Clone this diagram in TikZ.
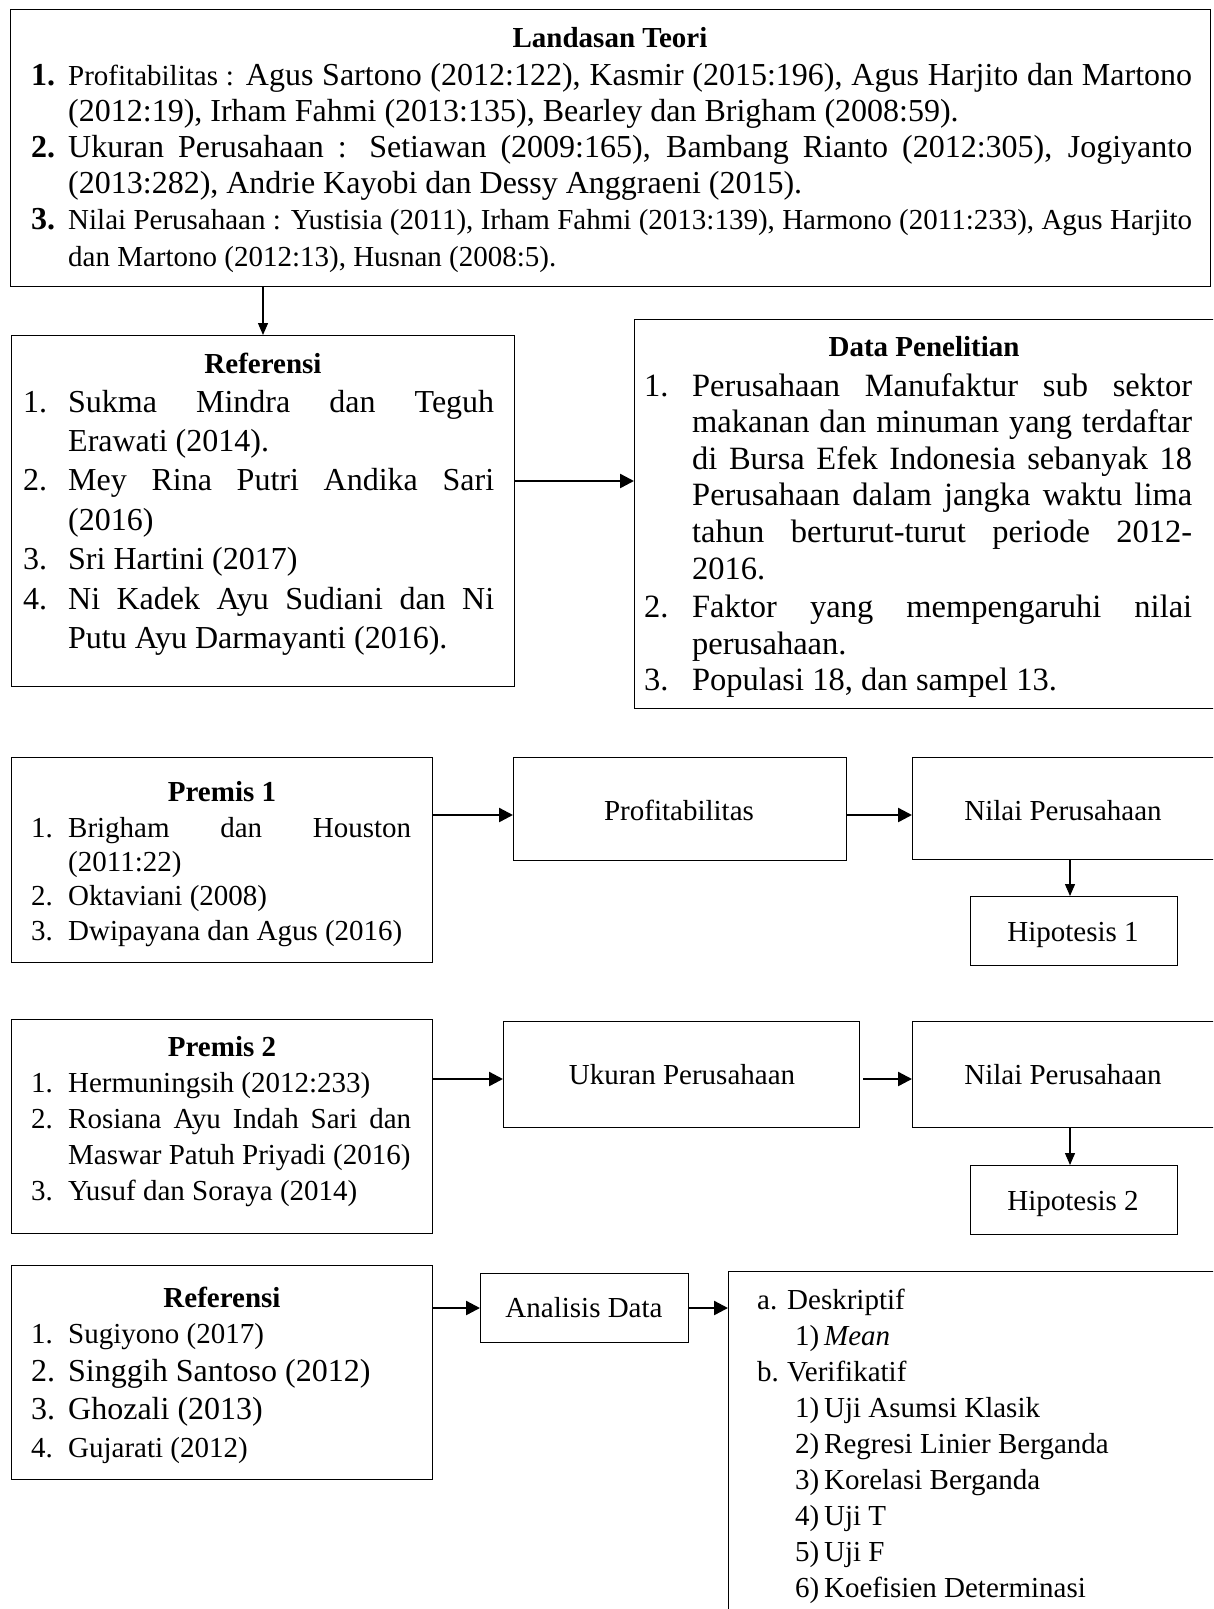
\documentclass[tikz,border=0pt]{standalone}
\usepackage{fontspec}
\setmainfont{Liberation Serif}
\usetikzlibrary{arrows.meta}
\newcommand\fsz[2]{\fontsize{#1}{#2}\selectfont}
\newcommand\jl[2]{\makebox[#1][s]{#2}}
\newcommand\nm[2]{\makebox[#1][l]{#2}}
\begin{document}
\begin{tikzpicture}[x=1pt,y=-1pt,
  box/.style={draw, line width=1.3pt, inner sep=0pt, anchor=north west},
  head/.style={font=\fsz{29}{34}\bfseries, inner sep=0pt, anchor=base},
  lbl/.style={font=\fsz{29}{34}, inner sep=0pt, anchor=base},
  body/.style={inner sep=0pt, anchor=base west},
  harr/.style={-{Triangle[length=14pt,width=14pt]}, line width=2.4pt},
  varr/.style={-{Triangle[length=12pt,width=10pt]}, line width=1.3pt}]
\useasboundingbox (0,0) rectangle (1213,1609);
\clip (0,0) rectangle (1213,1609);
\fill[white] (0,0) rectangle (1213,1609);

% boxes
\node[box, minimum width=1200pt, minimum height=277pt] (LT) at (10,9) {};
\node[box, minimum width=503pt, minimum height=351pt] (R1) at (11,335) {};
\node[box, minimum width=620pt, minimum height=389pt] (DP) at (634,319) {};
\node[box, minimum width=421pt, minimum height=205pt] (P1) at (11,757) {};
\node[box, minimum width=333pt, minimum height=103pt] (PR) at (513,757) {};
\node[box, minimum width=330pt, minimum height=102pt] (N1) at (912,757) {};
\node[box, minimum width=207pt, minimum height=69pt] (H1) at (970,896) {};
\node[box, minimum width=421pt, minimum height=214pt] (P2) at (11,1019) {};
\node[box, minimum width=356pt, minimum height=106pt] (UK) at (503,1021) {};
\node[box, minimum width=330pt, minimum height=106pt] (N2) at (912,1021) {};
\node[box, minimum width=207pt, minimum height=69pt] (H2) at (970,1165) {};
\node[box, minimum width=421pt, minimum height=214pt] (R2) at (11,1265) {};
\node[box, minimum width=208pt, minimum height=69pt] (AD) at (480,1273) {};
\node[box, minimum width=520pt, minimum height=380pt] (AN) at (728,1271) {};

% Landasan Teori
\node[head] (LTh) at (610,47) {Landasan Teori};
\node[body] (LTt) at (31,85) {\parbox[t]{1170pt}{\fsz{32}{36.2}\lineskiplimit=-100pt
\nm{37pt}{\textbf{1.}}\jl{1124pt}{{\fsz{29}{36.2}Profitabilitas :} Agus Sartono (2012:122), Kasmir (2015:196), Agus Harjito dan Martono}\\
\hspace*{37pt}(2012:19), Irham Fahmi (2013:135), Bearley dan Brigham (2008:59).\\
\nm{37pt}{\textbf{2.}}\jl{1124pt}{Ukuran Perusahaan : Setiawan (2009:165), Bambang Rianto (2012:305), Jogiyanto}\\
\hspace*{37pt}(2013:282), Andrie Kayobi dan Dessy Anggraeni (2015).\\
\nm{37pt}{\textbf{3.}}\jl{1124pt}{\fsz{29}{36.2}Nilai Perusahaan : Yustisia (2011), Irham Fahmi (2013:139), Harmono (2011:233), Agus Harjito}\\
\hspace*{37pt}{\fsz{29}{36.2}dan Martono (2012:13), Husnan (2008:5).}}};

% Referensi 1
\node[head] (R1h) at (263,373) {Referensi};
\node[body] (R1t) at (23,412) {\parbox[t]{480pt}{\fsz{32}{39.4}\lineskiplimit=-100pt
\nm{45pt}{1.}\jl{426pt}{Sukma Mindra dan Teguh}\\
\hspace*{45pt}Erawati (2014).\\
\nm{45pt}{2.}\jl{426pt}{Mey Rina Putri Andika Sari}\\
\hspace*{45pt}(2016)\\
\nm{45pt}{3.}Sri Hartini (2017)\\
\nm{45pt}{4.}\jl{426pt}{Ni Kadek Ayu Sudiani dan Ni}\\
\hspace*{45pt}Putu Ayu Darmayanti (2016).}};

% Data Penelitian
\node[head] (DPh) at (924,356) {Data Penelitian};
\node[body] (DPt) at (644,396) {\parbox[t]{560pt}{\fsz{32.5}{36.6}\lineskiplimit=-100pt
\nm{48pt}{1.}\jl{500pt}{Perusahaan Manufaktur sub sektor}\\
\hspace*{48pt}\jl{500pt}{makanan dan minuman yang terdaftar}\\
\hspace*{48pt}\jl{500pt}{di Bursa Efek Indonesia sebanyak 18}\\
\hspace*{48pt}\jl{500pt}{Perusahaan dalam jangka waktu lima}\\
\hspace*{48pt}\jl{500pt}{tahun berturut-turut periode 2012-}\\
\hspace*{48pt}2016.\\[2pt]
\nm{48pt}{2.}\jl{500pt}{Faktor yang mempengaruhi nilai}\\
\hspace*{48pt}perusahaan.\\
\nm{48pt}{3.}Populasi 18, dan sampel 13.}};

% Premis 1
\node[head] (P1h) at (222,801) {Premis 1};
\node[body] (P1t) at (31,837) {\parbox[t]{390pt}{\fsz{29}{34.4}\lineskiplimit=-100pt
\nm{37pt}{1.}\jl{343pt}{Brigham dan Houston}\\
\hspace*{37pt}(2011:22)\\
\nm{37pt}{2.}Oktaviani (2008)\\
\nm{37pt}{3.}Dwipayana dan Agus (2016)}};

% Premis 2
\node[head] (P2h) at (222,1056) {Premis 2};
\node[body] (P2t) at (31,1092) {\parbox[t]{390pt}{\fsz{29}{36.3}\lineskiplimit=-100pt
\nm{37pt}{1.}Hermuningsih (2012:233)\\
\nm{37pt}{2.}\jl{343pt}{Rosiana Ayu Indah Sari dan}\\
\hspace*{37pt}Maswar Patuh Priyadi (2016)\\
\nm{37pt}{3.}Yusuf dan Soraya (2014)}};

% Referensi 2
\node[head] (R2h) at (222,1307) {Referensi};
\node[body] (R2t) at (31,1343) {\parbox[t]{390pt}{\fsz{29}{38.3}\lineskiplimit=-100pt
\nm{37pt}{1.}Sugiyono (2017)\\
{\fsz{32}{38.3}\nm{37pt}{2.}Singgih Santoso (2012)}\\
{\fsz{32}{38.3}\nm{37pt}{3.}Ghozali (2013)}\\
\nm{37pt}{4.}Gujarati (2012)}};

% Analisis list
\node[body] (ANt) at (757,1309) {\parbox[t]{450pt}{\fsz{29}{36}\lineskiplimit=-100pt
\nm{30pt}{a.}Deskriptif\\
\hspace*{38pt}\nm{29pt}{1)}\textit{Mean}\\
\nm{30pt}{b.}Verifikatif\\
\hspace*{38pt}\nm{29pt}{1)}Uji Asumsi Klasik\\
\hspace*{38pt}\nm{29pt}{2)}Regresi Linier Berganda\\
\hspace*{38pt}\nm{29pt}{3)}Korelasi Berganda\\
\hspace*{38pt}\nm{29pt}{4)}Uji T\\
\hspace*{38pt}\nm{29pt}{5)}Uji F\\
\hspace*{38pt}\nm{29pt}{6)}Koefisien Determinasi}};

% small box labels
\node[lbl] (PRl) at (679,820) {Profitabilitas};
\node[lbl] (N1l) at (1063,820) {Nilai Perusahaan};
\node[lbl] (H1l) at (1073,941) {Hipotesis 1};
\node[lbl] (UKl) at (682,1084) {Ukuran Perusahaan};
\node[lbl] (N2l) at (1063,1084) {Nilai Perusahaan};
\node[lbl] (H2l) at (1073,1210) {Hipotesis 2};
\node[lbl] (ADl) at (584,1317) {Analisis Data};

% connectors
\coordinate (c1) at (263,0);
\coordinate (c2) at (0,481);
\coordinate (c3) at (0,815);
\coordinate (c4) at (1070,0);
\coordinate (c5) at (0,1079);
\coordinate (c6) at (0,1308);
\draw[varr] (LT.south -| c1) -- (R1.north -| c1);
\draw[harr] (R1.east |- c2) -- (DP.west |- c2);
\draw[harr] (P1.east |- c3) -- (PR.west |- c3);
\draw[harr] (PR.east |- c3) -- (N1.west |- c3);
\draw[varr] (N1.south -| c4) -- (H1.north -| c4);
\draw[harr] (P2.east |- c5) -- (UK.west |- c5);
\draw[harr] ([xshift=3pt]UK.east |- c5) -- (N2.west |- c5);
\draw[varr] (N2.south -| c4) -- (H2.north -| c4);
\draw[harr] (R2.east |- c6) -- (AD.west |- c6);
\draw[harr] (AD.east |- c6) -- (AN.west |- c6);
\end{tikzpicture}
\end{document}
